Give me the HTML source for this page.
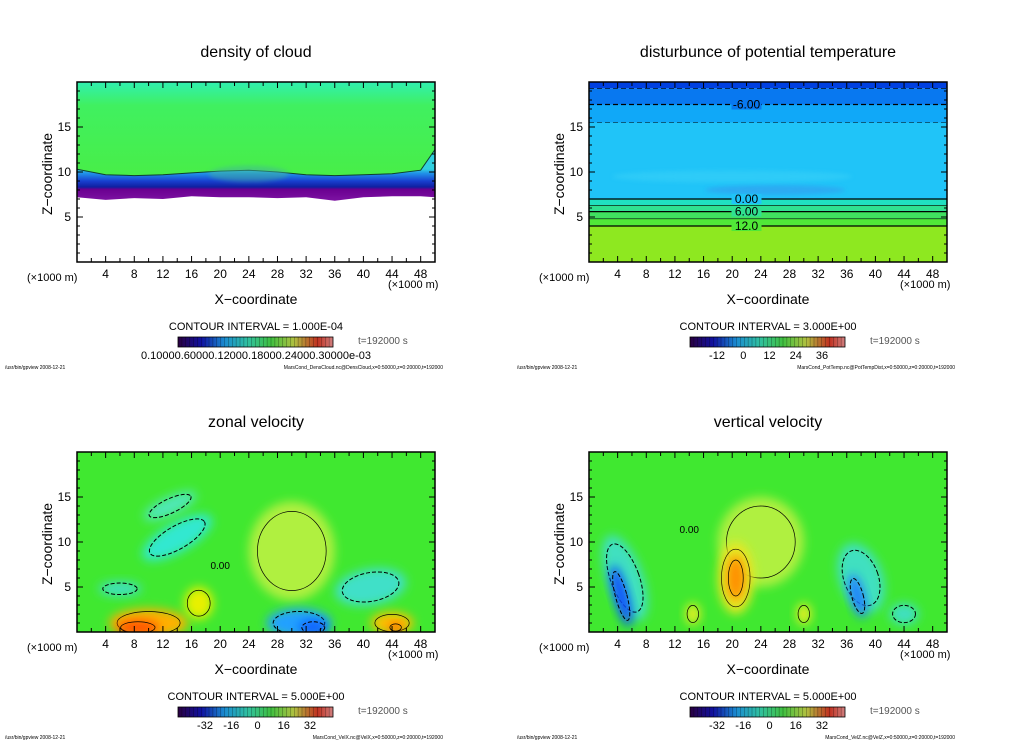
<!DOCTYPE html>
<html><head><meta charset="utf-8"><style>
body{margin:0;background:#fff;width:1024px;height:740px;overflow:hidden}
svg text{font-family:"Liberation Sans",sans-serif;fill:#000}
</style></head><body>
<svg id="root" width="1024" height="740" viewBox="0 0 1024 740" xmlns="http://www.w3.org/2000/svg">
<defs>
<filter id="blur" x="-50%" y="-50%" width="200%" height="200%"><feGaussianBlur stdDeviation="5"/></filter>
<filter id="blur2" x="-50%" y="-50%" width="200%" height="200%"><feGaussianBlur stdDeviation="2"/></filter>
<linearGradient id="cbar" x1="0" x2="1" y1="0" y2="0">
<stop offset="0" stop-color="#2a0040"/><stop offset="0.15" stop-color="#1010a0"/><stop offset="0.3" stop-color="#1a8cd0"/><stop offset="0.45" stop-color="#30c0a0"/><stop offset="0.6" stop-color="#40c040"/><stop offset="0.75" stop-color="#b0c040"/><stop offset="0.9" stop-color="#c03020"/><stop offset="1" stop-color="#d08080"/></linearGradient>
<linearGradient id="g1" x1="0" x2="0" y1="0" y2="1">
<stop offset="0" stop-color="#30f0b0"/><stop offset="0.25" stop-color="#40f060"/><stop offset="1" stop-color="#48ee48"/></linearGradient>
<linearGradient id="g1b" gradientUnits="userSpaceOnUse" x1="0" x2="0" y1="169" y2="199">
<stop offset="0" stop-color="#30d0e0"/><stop offset="0.15" stop-color="#2090e8"/><stop offset="0.4" stop-color="#1840d0"/><stop offset="0.6" stop-color="#1020a0"/><stop offset="0.68" stop-color="#6a0090"/><stop offset="1" stop-color="#7a10a0"/></linearGradient>
<clipPath id="c0"><rect x="77" y="82" width="358" height="180"/></clipPath>
<clipPath id="c1"><rect x="589" y="82" width="358" height="180"/></clipPath>
<clipPath id="c2"><rect x="77" y="452" width="358" height="180"/></clipPath>
<clipPath id="c3"><rect x="589" y="452" width="358" height="180"/></clipPath>
</defs>
</svg>
<script>
const xTicks=[4,8,12,16,20,24,28,32,36,40,44,48];
const zTicks=[5,10,15];
const titles=["density of cloud","disturbunce of potential temperature","zonal velocity","vertical velocity"];
const intervals=["1.000E-04","3.000E+00","5.000E+00","5.000E+00"];
const cbarLabels=[["0.10000.60000.12000.18000.24000.30000e-03"],["-12","0","12","24","36"],["-32","-16","0","16","32"],["-32","-16","0","16","32"]];
const footers=["MarsCond_DensCloud.nc@DensCloud,x=0:50000,z=0:20000,t=192000","MarsCond_PotTemp.nc@PotTempDist,x=0:50000,z=0:20000,t=192000","MarsCond_VelX.nc@VelX,x=0:50000,z=0:20000,t=192000","MarsCond_VelZ.nc@VelZ,x=0:50000,z=0:20000,t=192000"];
// cloud top/base heights along x (km)
const cloudX=[0,4,8,12,16,20,24,28,32,36,40,44,48,50];
const cloudTop=[10.3,9.7,9.6,9.7,9.9,10.1,10.2,10.0,9.7,9.6,9.7,9.8,10.2,12.5];
const cloudBase=[7.2,6.9,7.1,7.0,7.3,7.2,7.2,7.1,7.2,6.8,7.2,7.3,7.3,7.2];
// potential temperature contour levels (km), top-down
const ptLevels=[19.3,17.5,15.5,7.0,6.3,5.6,4.8,4.0];
const ptLabels=["","-6.00","","0.00","","6.00","","12.0"];
const ptBold=[0,1,0,1,0,1,0,1];
const ptDash=[1,1,1,0,0,0,0,0];
const ptColors=["#0040e0","#0878f0","#10a8f8","#20c4f8","#20e0c0","#30e090","#40e060","#50e838","#8ee820"];
// velocity regions: x(km), z(km), rx, rz, color, rotation(deg), dashed
const uBlobs=[[30,9,6,5.5,"#b0f040",0,0],[14,10.5,5.5,1.6,"#30e8d0",-30,1],[13,14,4,1,"#50e8b8",-25,1],[6,4.8,3,0.8,"#40e0c0",0,1],[41,5,5,2,"#40e0c8",-10,1],[10,1,5.5,1.6,"#ffb000",0,0],[8.5,0.5,3,0.8,"#ff5000",0,0],[17,3.2,2,1.8,"#e8f000",0,0],[31,1,4.5,1.6,"#20a0ff",0,1],[33,0.5,2,0.8,"#1060ff",0,1],[44,1,3,1.2,"#ffc000",0,0],[44.5,0.5,1,0.5,"#ff6000",0,0]];
const wBlobs=[[5,6,2.5,5,"#40e0c0",-20,1],[4.5,4,1,3.5,"#1050ff",-15,1],[24,10,6,5,"#b0f040",0,0],[20.5,6,2.5,4,"#e8e820",0,0],[20.5,6,1.3,2.5,"#ff9000",0,0],[14.5,2,1,1.2,"#e8f020",0,0],[30,2,1,1.2,"#e8f020",0,0],[38,6,3,4,"#40e0c0",-20,1],[37.5,4,1,2.5,"#2080ff",-15,1],[44,2,2,1.2,"#40e0c0",0,1]];
const svg=document.getElementById('root');
const NS='http://www.w3.org/2000/svg';
function mk(tag,attrs,parent){const e=document.createElementNS(NS,tag);for(const k in attrs)e.setAttribute(k,attrs[k]);(parent||svg).appendChild(e);return e;}
function txt(s,x,y,size,anchor,parent){const t=mk('text',{x:x,y:y,'font-size':size,'text-anchor':anchor||'start'},parent);t.textContent=s;return t;}
const W=358,H=180;
for(let p=0;p<4;p++){
  const ox=p%2?589:77, oy=p<2?82:452;
  const sx=v=>ox+v/50*W, sz=v=>oy+H-v/20*H;
  const g=mk('g',{});
  
  
  const plot=mk('g',{'clip-path':'url(#c'+p+')'},g);
  
  
  if(p===0){
    mk('rect',{x:ox,y:oy,width:W,height:H,fill:'#fff'},plot);
    let top=cloudX.map((x,i)=>sx(x)+','+sz(cloudTop[i])).join(' ');
    mk('polygon',{points:ox+','+oy+' '+top+' '+(ox+W)+','+oy,fill:'url(#g1)'},plot);
    let base=cloudX.slice().reverse().map((x,i)=>sx(x)+','+sz(cloudBase[cloudX.length-1-i])).join(' ');
    const band=mk('polygon',{points:top+' '+base,fill:'url(#g1b)'},plot);
    
    
    mk('polyline',{points:top,fill:'none',stroke:'#104030','stroke-width':1},plot);
    mk('ellipse',{cx:sx(24),cy:sz(9.8),rx:40,ry:8,fill:'#40b0a0',opacity:0.5,filter:'url(#blur2)'},plot);
  } else if(p===1){
    let prev=20;
    ptLevels.forEach((lv,i)=>{mk('rect',{x:ox,y:sz(prev),width:W,height:sz(lv)-sz(prev),fill:ptColors[i]},plot);prev=lv;});
    mk('rect',{x:ox,y:sz(prev),width:W,height:sz(0)-sz(prev),fill:ptColors[ptLevels.length]},plot);
    mk('ellipse',{cx:sx(26),cy:sz(8),rx:70,ry:5,fill:'#30a0f0',opacity:0.7,filter:'url(#blur2)'},plot);
    mk('ellipse',{cx:sx(20),cy:sz(9.5),rx:120,ry:6,fill:'#38d0f8',opacity:0.6,filter:'url(#blur2)'},plot);
    ptLevels.forEach((lv,i)=>{
      const l=mk('line',{x1:ox,x2:ox+W,y1:sz(lv),y2:sz(lv),stroke:'#000','stroke-width':ptBold[i]?1.3:0.6,'stroke-dasharray':ptDash[i]?'5,3':'none'},plot);
      
      
      if(ptLabels[i]){mk('rect',{x:sx(22)-15,y:sz(lv)-5,width:30,height:10,fill:ptColors[i]},plot);txt(ptLabels[i],sx(22),sz(lv)+4,12,'middle',plot);}
    });
  } else {
    mk('rect',{x:ox,y:oy,width:W,height:H,fill:'#40e830'},plot);
    const bl=p===2?uBlobs:wBlobs;
    bl.forEach(b=>{
      const cx=sx(b[0]),cy=sz(b[1]),rot='rotate('+b[5]+' '+cx+' '+cy+')';
      const e=mk('ellipse',{cx:cx,cy:cy,rx:b[2]/50*W,ry:b[3]/20*H,fill:b[4],filter:'url(#blur)',transform:rot},plot);
      
      
      mk('ellipse',{cx:cx,cy:cy,rx:b[2]/50*W*0.8,ry:b[3]/20*H*0.8,fill:'none',stroke:'#000','stroke-width':b[6]?1:0.7,'stroke-dasharray':b[6]?'4,2':'none',transform:rot},plot);
    });
    txt('0.00',sx(p===2?20:14),sz(p===2?7:11),10,'middle',plot);
  }
  mk('rect',{x:ox,y:oy,width:W,height:H,fill:'none',stroke:'#000','stroke-width':1.5},g);
  for(let v=2;v<50;v+=2){const x=sx(v),l=v%4===0?6:4;mk('line',{x1:x,x2:x,y1:oy+H,y2:oy+H-l,stroke:'#000'},g);mk('line',{x1:x,x2:x,y1:oy,y2:oy+l,stroke:'#000'},g);}
  for(let v=1;v<20;v++){const y=sz(v),l=v%5===0?6:3;mk('line',{x1:ox,x2:ox+l,y1:y,y2:y,stroke:'#000'},g);mk('line',{x1:ox+W,x2:ox+W-l,y1:y,y2:y,stroke:'#000'},g);}
  xTicks.forEach(v=>{const t=txt(String(v),sx(v),oy+H+16,12,'middle',g);});
  zTicks.forEach(v=>{const t=txt(String(v),ox-6,sz(v)+4,12,'end',g);});
  const tt=txt(titles[p],ox+W/2,oy-25,16,'middle',g);
  const yl=txt('Z\u2212coordinate',0,0,14,'middle',g);yl.setAttribute('transform','translate('+(ox-25)+','+(oy+H/2+2)+') rotate(-90)');
  const xl=txt('X\u2212coordinate',ox+W/2,oy+H+42,14,'middle',g);
  txt('(\u00d71000 m)',ox-50,oy+H+19,11,'start',g);
  txt('(\u00d71000 m)',ox+W-47,oy+H+26,11,'start',g);
  const ci=txt('CONTOUR INTERVAL = '+intervals[p],ox+W/2,oy+H+68,11,'middle',g);
  const cb=mk('rect',{x:ox+101,y:oy+H+75,width:155,height:10,fill:'url(#cbar)',stroke:'#000','stroke-width':0.8},g);
  
  for(let i=1;i<40;i++){mk('line',{x1:ox+101+i*155/40,x2:ox+101+i*155/40,y1:oy+H+75,y2:oy+H+85,stroke:'#000','stroke-width':0.4,opacity:0.6},g);}
  const cl=cbarLabels[p];
  if(cl.length===1){txt(cl[0],ox+W/2,oy+H+97,11,'middle',g);}
  else cl.forEach((s,i)=>{txt(s,ox+128+i*(105/(cl.length-1)),oy+H+97,11,'middle',g);});
  const ts=txt('t=192000 s',ox+281,oy+H+82,10,'start',g);ts.style.fill='#555';
  txt('/usr/bin/gpview   2008-12-21',ox-72,oy+H+107,5,'start',g);
  txt(footers[p],ox+W+8,oy+H+107,5,'end',g);
}
</script>
</body></html>
